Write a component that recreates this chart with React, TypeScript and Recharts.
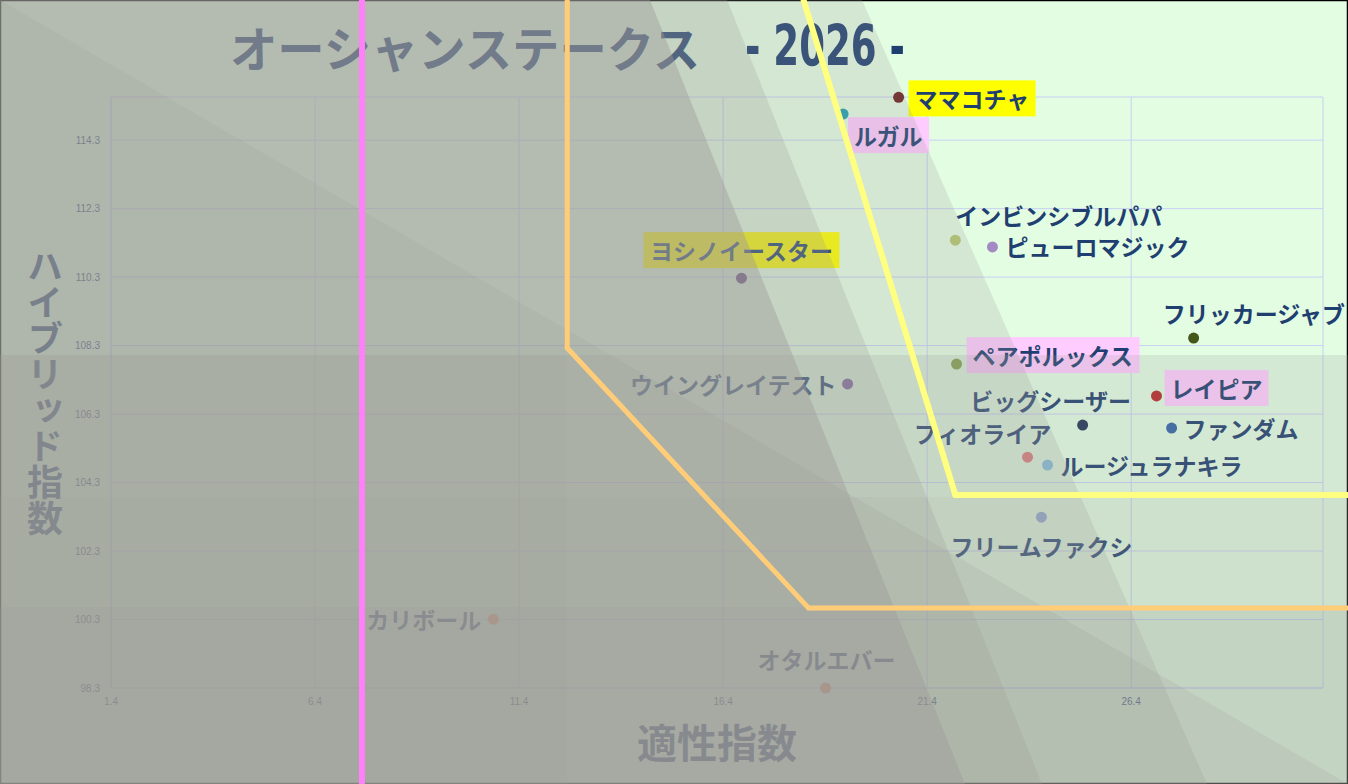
import React from 'react';
import { ScatterChart, Scatter, XAxis, YAxis, CartesianGrid, ReferenceLine, Label } from 'recharts';

const W = 1348;
const H = 784;
const MARGIN = { top: 97, right: 25, bottom: 0, left: 0 };
const Y_AXIS_W = 111;
const X_AXIS_H = 96;

// ---- data ----
const horseNames = [
  'ママコチャ', 'ルガル', 'インビンシブルパパ', 'ピューロマジック', 'ヨシノイースター',
  'フリッカージャブ', 'ペアポルックス', 'ウイングレイテスト', 'レイピア', 'ビッグシーザー',
  'ファンダム', 'フィオライア', 'ルージュラナキラ', 'フリームファクシ', 'カリボール', 'オタルエバー',
];
const aptitude = [20.70, 19.34, 22.09, 23.00, 16.85, 27.93, 22.12, 19.45, 27.02, 25.21, 27.39, 23.86, 24.35, 24.20, 10.77, 18.91];
const hybrid = [115.55, 115.06, 111.38, 111.18, 110.27, 108.52, 107.76, 107.18, 106.83, 105.98, 105.89, 105.04, 104.81, 103.29, 100.31, 98.30];
const dotColors = [
  '#6a1c1c', '#1fa0b4', '#b6c76e', '#a38ac4', '#5a3c78',
  '#44561a', '#80a044', '#7a5aa0', '#b82828', '#1f3358',
  '#3364a8', '#e07878', '#80c0e0', '#90a8d8', '#ff9060', '#f08060',
];
const xTicks = [1.4, 6.4, 11.4, 16.4, 21.4, 26.4];
const yTicks = [98.3, 100.3, 102.3, 104.3, 106.3, 108.3, 110.3, 112.3, 114.3];
const xDomain: [number, number] = [1.4, 31.1];
const yDomain: [number, number] = [98.3, 115.56];

// boundary lines (data units)
const pinkX = [7.55, 7.55];
const pinkY = [95, 119];
const orangeX = [12.58, 12.58, 18.49, 33];
const orangeY = [119, 108.23, 100.64, 100.64];
const yellowX = [18.37, 22.09, 33];
const yellowY = [118.4, 103.94, 103.94];

// ---- styles ----
const NAVY = '#1f3f70';
const LABEL_FS = 23;
const JP = "'Noto Sans CJK JP', 'Noto Sans', sans-serif";

type Place = { anchor: 'start' | 'middle' | 'end'; dx: number; dy: number; bg?: string };
const labelPlace: Record<string, Place> = {
  'ママコチャ': { anchor: 'start', dx: 16, dy: 1, bg: '#ffff00' },
  'ルガル': { anchor: 'start', dx: 11, dy: 21, bg: '#ffccff' },
  'インビンシブルパパ': { anchor: 'start', dx: 0, dy: -25 },
  'ピューロマジック': { anchor: 'start', dx: 13, dy: -1 },
  'ヨシノイースター': { anchor: 'middle', dx: 0, dy: -28, bg: '#ffff00' },
  'フリッカージャブ': { anchor: 'start', dx: -31, dy: -25 },
  'ペアポルックス': { anchor: 'start', dx: 16, dy: -9, bg: '#ffccff' },
  'ウイングレイテスト': { anchor: 'end', dx: -11, dy: 0 },
  'レイピア': { anchor: 'start', dx: 14, dy: -8, bg: '#ffccff' },
  'ビッグシーザー': { anchor: 'middle', dx: -32, dy: -25 },
  'ファンダム': { anchor: 'start', dx: 12, dy: 0 },
  'フィオライア': { anchor: 'middle', dx: -45, dy: -24 },
  'ルージュラナキラ': { anchor: 'start', dx: 13, dy: 0 },
  'フリームファクシ': { anchor: 'middle', dx: 0, dy: 29 },
  'カリボール': { anchor: 'end', dx: -12, dy: 0 },
  'オタルエバー': { anchor: 'middle', dx: 1, dy: -29 },
};

// decorative translucent shading of the picture (pixel space)
const SHADE = '#9d9c98';
const shadeLayers: { pts: number[][]; a: number }[] = [
  { pts: [[0, 0], [862, 0], [1207, 784], [0, 784]], a: 0.22 },
  { pts: [[0, 0], [727, 0], [1042, 784], [0, 784]], a: 0.25 },
  { pts: [[0, 0], [650, 0], [965, 784], [0, 784]], a: 0.42 },
  { pts: [[0, 0], [1348, 784], [0, 784]], a: 0.18 },
  { pts: [[0, 355], [1348, 355], [1348, 784], [0, 784]], a: 0.2 },
  { pts: [[0, 497], [1348, 497], [1348, 784], [0, 784]], a: 0.1 },
  { pts: [[0, 607], [1348, 607], [1348, 784], [0, 784]], a: 0.18 },
  { pts: [[0, 355], [567, 355], [567, 784], [0, 784]], a: 0.1 },
];

const data = horseNames.map((name, i) => ({ name, x: aptitude[i], y: hybrid[i], color: dotColors[i] }));

const segs = (xs: number[], ys: number[]) => {
  const out: { x: number; y: number }[][] = [];
  for (let i = 0; i < xs.length - 1; i++) out.push([{ x: xs[i], y: ys[i] }, { x: xs[i + 1], y: ys[i + 1] }]);
  return out;
};

const renderPoint = (props: any) => {
  const { cx, cy, payload } = props;
  if (cx == null || cy == null || !payload) return <g />;
  const st = labelPlace[payload.name];
  const tx = cx + st.dx;
  const ty = cy + st.dy;
  const w = payload.name.length * LABEL_FS;
  const left = st.anchor === 'start' ? tx : st.anchor === 'middle' ? tx - w / 2 : tx - w;
  return (
    <g>
      <circle cx={cx} cy={cy} r={5.5} fill={payload.color} />
      {st.bg && <rect x={left - 6} y={ty - 18} width={w + 12} height={36} fill={st.bg} />}
      <text x={tx} y={ty} textAnchor={st.anchor} dominantBaseline="central" fontFamily={JP}
        fontWeight={700} fontSize={LABEL_FS} fill={NAVY}>{payload.name}</text>
    </g>
  );
};

const tickFont = { fontSize: 10, fill: '#2a3f78', fontFamily: "'Liberation Sans Narrow', 'Liberation Sans', sans-serif" };

const BaseChart = () => (
  <ScatterChart width={W} height={H} margin={MARGIN}>
    <CartesianGrid stroke="#c8d0f4" strokeWidth={1} />
    <XAxis type="number" dataKey="x" domain={xDomain} ticks={xTicks} height={X_AXIS_H}
      axisLine={{ stroke: '#c8d0f4' }} tickLine={false} tick={tickFont} tickMargin={4}>
      <Label content={(p: any) => {
        const vb = p.viewBox || {};
        return <text x={vb.x + vb.width / 2} y={vb.y + 53} textAnchor="middle" dominantBaseline="central"
          fontFamily={JP} fontWeight={700} fontSize={40} fill={NAVY}>適性指数</text>;
      }} />
    </XAxis>
    <YAxis type="number" dataKey="y" domain={yDomain} ticks={yTicks} width={Y_AXIS_W}
      axisLine={{ stroke: '#c8d0f4' }} tickLine={false} tick={tickFont} tickMargin={5}>
      <Label content={(p: any) => {
        const vb = p.viewBox || {};
        return <text x={vb.x + 45} y={vb.y + vb.height / 2} textAnchor="middle" dominantBaseline="central"
          style={{ writingMode: 'vertical-rl' as any }}
          fontFamily={JP} fontWeight={700} fontSize={36} fill={NAVY}>ハイブリッド指数</text>;
      }} />
    </YAxis>
    <Scatter data={data} isAnimationActive={false} shape={renderPoint} />
  </ScatterChart>
);

const LineChartLayer = () => (
  <ScatterChart width={W} height={H} margin={MARGIN}>
    <XAxis type="number" dataKey="x" domain={xDomain} ticks={xTicks} height={X_AXIS_H}
      axisLine={false} tickLine={false} tick={false} />
    <YAxis type="number" dataKey="y" domain={yDomain} ticks={yTicks} width={Y_AXIS_W}
      axisLine={false} tickLine={false} tick={false} />
    <Scatter data={data} isAnimationActive={false} shape={() => <g />} />
    {segs(pinkX, pinkY).map((s, i) => (
      <ReferenceLine key={'p' + i} segment={s} stroke="#ff80f8" strokeWidth={6} ifOverflow="visible" />
    ))}
    {segs(orangeX, orangeY).map((s, i) => (
      <ReferenceLine key={'o' + i} segment={s} stroke="#ffcc78" strokeWidth={5} strokeLinecap="round" ifOverflow="visible" />
    ))}
    {segs(yellowX, yellowY).map((s, i) => (
      <ReferenceLine key={'y' + i} segment={s} stroke="#ffff80" strokeWidth={6} strokeLinecap="round" ifOverflow="visible" />
    ))}
  </ScatterChart>
);

const layer: React.CSSProperties = { position: 'absolute', left: 0, top: 0, width: W, height: H };

export default function App() {
  return (
    <div style={{ position: 'relative', width: W, height: H, overflow: 'hidden', background: '#e3fde3' }}>
      <style>{'body{margin:0}'}</style>
      <svg style={layer} width={W} height={H}>
        <rect x={0.5} y={0.5} width={W - 1} height={H - 1} fill="none" stroke="#000" strokeWidth={1.5} />
        <text x={230} y={46} dominantBaseline="central" fontFamily={JP} fontWeight={700} fontSize={48}
          fill={NAVY} textLength={470} lengthAdjust="spacingAndGlyphs">オーシャンステークス</text>
        <text x={745} y={46} dominantBaseline="central"
          fontFamily="'Liberation Sans Narrow', 'DejaVu Sans Condensed', 'Liberation Sans', sans-serif"
          fontWeight={700} fontSize={57} fill={NAVY} textLength={160} lengthAdjust="spacingAndGlyphs">- 2026 -</text>
      </svg>
      <div style={layer}><BaseChart /></div>
      <svg style={{ ...layer, pointerEvents: 'none' }} width={W} height={H}>
        {shadeLayers.map((l, i) => (
          <polygon key={i} points={l.pts.map((p) => p.join(',')).join(' ')} fill={SHADE} fillOpacity={l.a} />
        ))}
      </svg>
      <div style={{ ...layer, pointerEvents: 'none' }}><LineChartLayer /></div>
    </div>
  );
}
